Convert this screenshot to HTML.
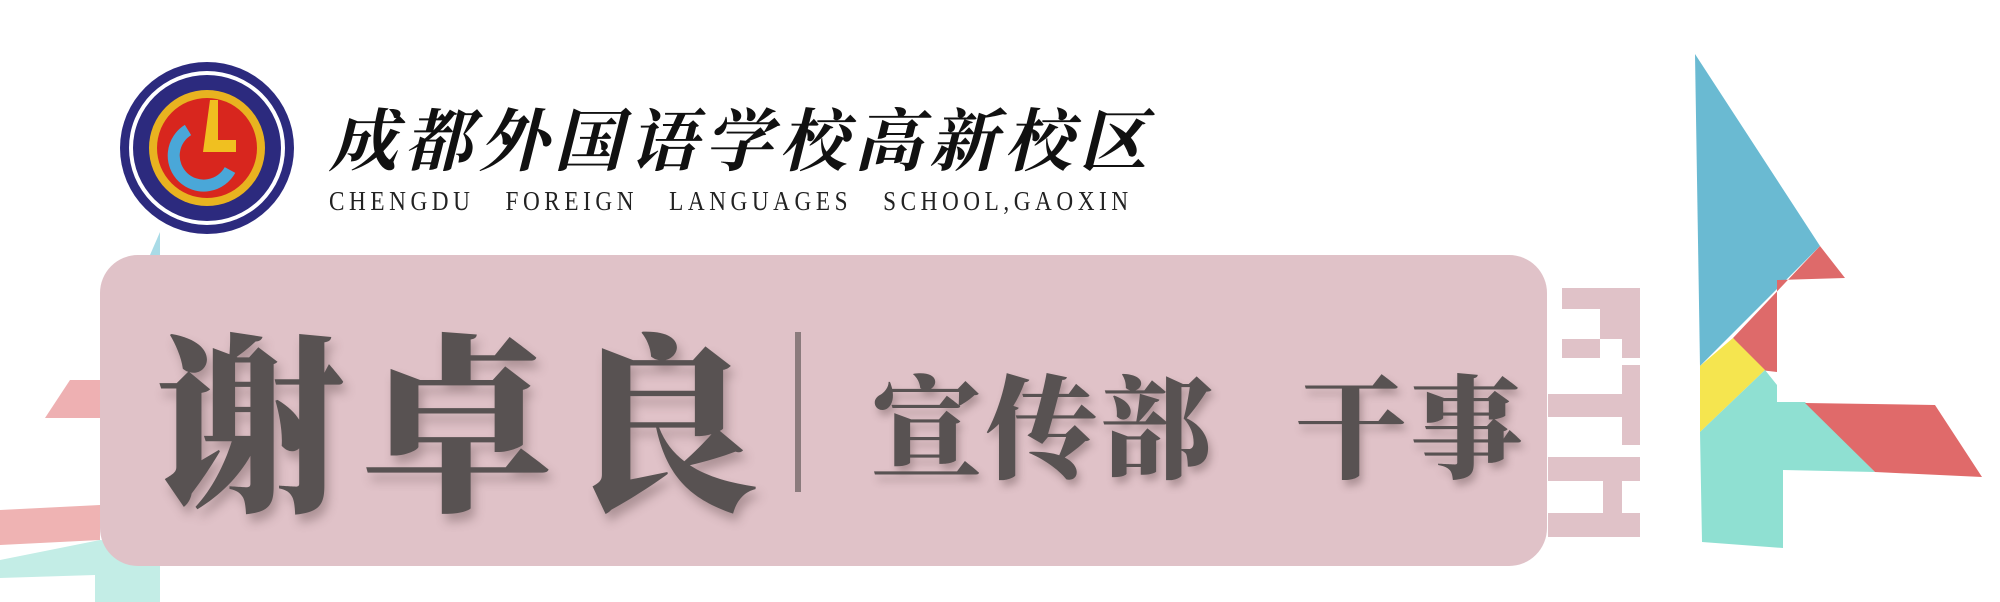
<!DOCTYPE html>
<html><head><meta charset="utf-8"><style>
html,body{margin:0;padding:0;background:#fff;}
#stage{position:relative;width:2000px;height:602px;overflow:hidden;background:#fff;font-family:"Liberation Serif","Noto Serif CJK SC",serif;}
.abs{position:absolute;}
</style></head><body>
<div id="stage">
<svg class="abs" style="left:0;top:0" width="2000" height="602">
  <polygon points="160,232 100,370 160,370" fill="#a9dbe7"/>
  <polygon points="70,380 45,418 100,418 100,380" fill="#eeb0b2"/>
  <polygon points="0,510 100,505 100,540 0,545" fill="#efb3b3"/>
  <polygon points="0,560 100,540 160,545 160,602 95,602 95,575 0,578" fill="#c3ede6"/>
  <polygon points="1695,54 1820,246 1700,366" fill="#6abad2"/>
  <polygon points="1820,246 1845,278 1777,280 1777,372 1760,370 1733,338" fill="#de6a6a"/>
  <polygon points="1700,366 1733,338 1765,370 1700,432" fill="#f5e54f"/>
  <polygon points="1700,432 1765,370 1777,385 1777,402 1805,402 1875,472 1783,470 1783,548 1702,542" fill="#8fe0d2"/>
  <polygon points="1805,403 1935,405 1982,477 1875,472" fill="#e06a6a"/>
  <g fill="#e0c2c8">
    <rect x="1562" y="288" width="78" height="70"/>
    <rect x="1548" y="394" width="92" height="23"/>
    <rect x="1622" y="365" width="18" height="80"/>
    <rect x="1548" y="457" width="92" height="24"/>
    <rect x="1548" y="513" width="92" height="24"/>
    <rect x="1603" y="481" width="19" height="32"/>
  </g>
  <g fill="#fff">
    <rect x="1562" y="309" width="38" height="30"/>
    <rect x="1600" y="339" width="22" height="19"/>
  </g>
</svg>

<svg class="abs" style="left:118px;top:60px" width="178" height="176" viewBox="0 0 178 176">
  <ellipse cx="89" cy="88" rx="87" ry="86" fill="#2c2a7e"/>
  <ellipse cx="89" cy="88" rx="78" ry="77" fill="#fff"/>
  <ellipse cx="89" cy="88" rx="74" ry="73" fill="#2c2a7e"/>
  <ellipse cx="89" cy="88" rx="58" ry="58" fill="#e8b320"/>
  <ellipse cx="89" cy="88" rx="50" ry="50" fill="#d8261e"/>
  <path d="M70 70 A30 30 0 1 0 112 110" stroke="#4aa7d8" stroke-width="12" fill="none"/>
  <polygon points="92,40 100,40 100,80 118,80 118,92 85,92" fill="#f0c020"/>
</svg>

<div class="abs" style="left:329px;top:88px;font-size:68px;letter-spacing:7px;color:#111;font-family:'Noto Serif CJK SC',serif;font-weight:bold;white-space:nowrap;font-style:italic">成都外国语学校高新校区</div>
<div class="abs" style="left:329px;top:186px;font-size:27px;color:#222;white-space:nowrap;letter-spacing:5.3px;transform:scaleX(0.86);transform-origin:left top">CHENGDU&nbsp;&nbsp;&nbsp;FOREIGN&nbsp;&nbsp;&nbsp;LANGUAGES&nbsp;&nbsp;&nbsp;SCHOOL,GAOXIN</div>

<div class="abs" style="left:100px;top:255px;width:1447px;height:311px;background:#e0c2c8;border-radius:38px;"></div>
<div class="abs" style="left:155px;top:308px;font-size:192px;line-height:210px;color:#585252;font-family:'Noto Serif CJK SC',serif;font-weight:900;letter-spacing:14px;white-space:nowrap;text-shadow:4px 8px 10px rgba(80,60,60,0.35)">谢卓良</div>
<div class="abs" style="left:795px;top:332px;width:6px;height:160px;background:#8b7b7d"></div>
<div class="abs" style="left:870px;top:356px;font-size:112px;line-height:132px;color:#585252;font-family:'Noto Serif CJK SC',serif;font-weight:900;white-space:nowrap;letter-spacing:3px;text-shadow:3px 6px 8px rgba(80,60,60,0.35)">宣传部<span style="display:inline-block;width:80px"></span>干事</div>
</div>
</body></html>
